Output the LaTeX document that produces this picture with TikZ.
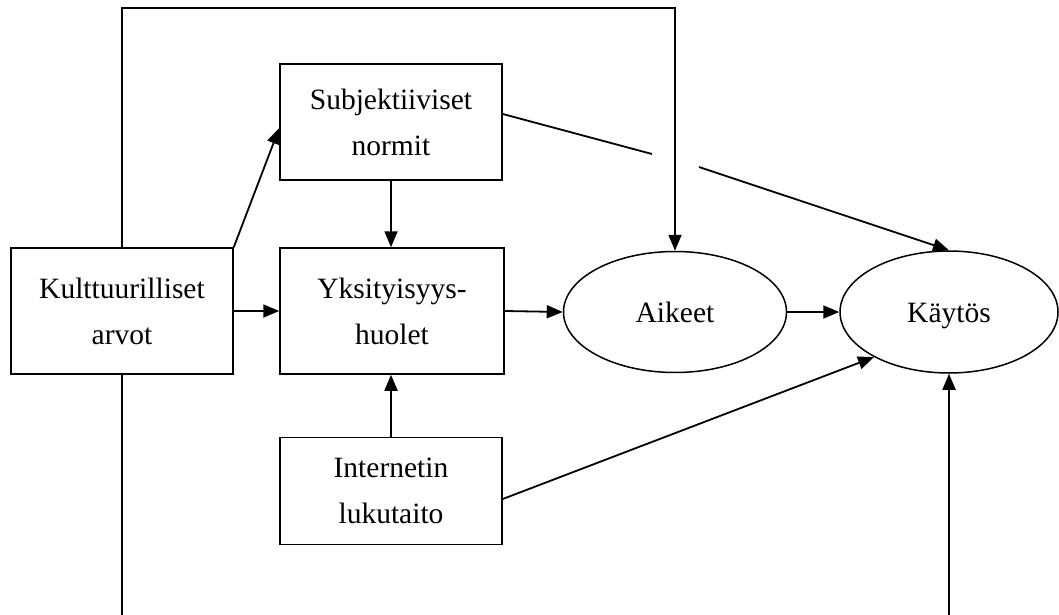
\documentclass[tikz,border=0pt]{standalone}
\usepackage{fontspec}
\setmainfont{Liberation Serif}
\usetikzlibrary{arrows.meta,shapes.geometric,calc}
\begin{document}
\begin{tikzpicture}[x=1pt,y=-1pt,
  every node/.style={font=\fontsize{29.5}{46}\selectfont},
  box/.style={draw,line width=1.5pt,inner sep=0pt,align=center},
  oval/.style={draw,line width=1.5pt,ellipse,inner sep=0pt,text height=20pt,text depth=0pt},
  link/.style={line width=1.8pt},
  arr/.style={link,-{Triangle[length=16pt,width=13pt]}}]
\useasboundingbox (0,0) rectangle (1059,615);

% factors
\node[box,minimum width=222pt,minimum height=126pt] (kult) at (122,311) {Kulttuurilliset\\arvot};
\node[box,minimum width=224pt,minimum height=126pt] (yks)  at (392,311) {Yksityisyys-\\huolet};
\node[box,minimum width=222pt,minimum height=116pt] (subj) at (391,122) {Subjektiiviset\\normit};
\node[box,minimum width=222pt,minimum height=107pt] (inet) at (391,491) {Internetin\\lukutaito};
\node[oval,minimum width=223pt,minimum height=121pt] (aik) at (675,312) {Aikeet};
\node[oval,minimum width=218pt,minimum height=122pt] (kay) at (949,312) {Käytös};

% helper points
\coordinate (top) at (0,8);
\coordinate (bot) at (0,615);
\coordinate (g1) at (652,154);
\coordinate (g2) at (699,167);

% connectors
\draw[arr] (kult.north) -- (kult.north |- top) -- (aik.north |- top) -- (aik.north);
\draw[arr] (kult.north east) -- ($(subj.west)+(0,6)$);
\draw[arr] (kult.east) -- (yks.west);
\draw[arr] (subj.south) -- (subj.south |- yks.north);
\draw[arr] (inet.north) -- (inet.north |- yks.south);
\draw[arr] (yks.east) -- (aik.west);
\draw[arr] (aik.east) -- (kay.west);
\draw[link] ($(subj.east)+(0,-8)$) -- (g1);
\draw[arr] (g2) -- (kay.north);
\draw[arr] ($(inet.east)+(0,8)$) -- (kay.211);
\draw[link] (kult.south) -- (kult.south |- bot);
\draw[arr] (kay.south |- bot) -- (kay.south);
\end{tikzpicture}
\end{document}
